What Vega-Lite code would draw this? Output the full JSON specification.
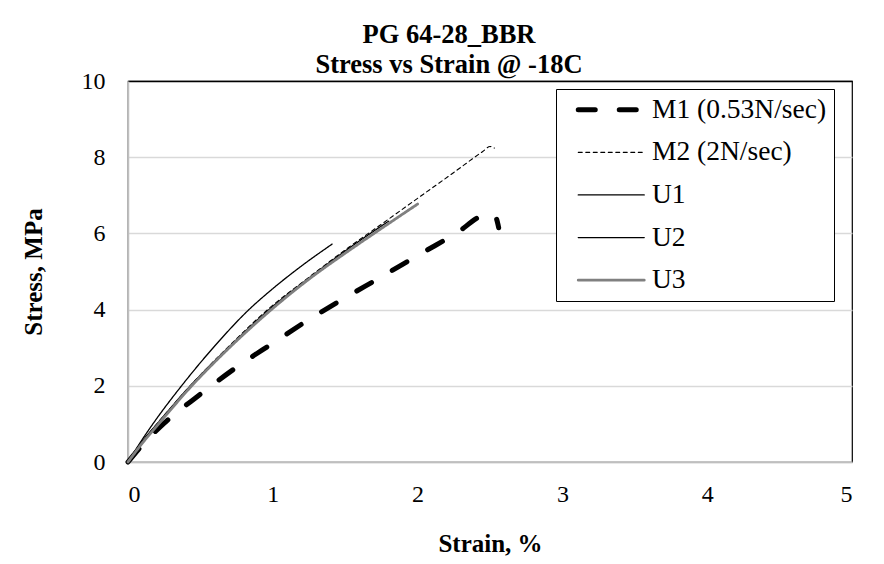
{
  "$schema": "https://vega.github.io/schema/vega-lite/v6.json",
  "width": 724,
  "height": 381,
  "autosize": {"type": "none"},
  "padding": {"left": 128, "top": 81, "right": 32, "bottom": 102},
  "background": "white",
  "title": {
    "text": ["PG 64-28_BBR", "Stress vs Strain @ -18C"],
    "font": "Liberation Serif",
    "fontSize": 26.5,
    "fontWeight": "bold",
    "color": "black",
    "anchor": "middle",
    "baseline": "bottom",
    "lineHeight": 30,
    "offset": -36,
    "dx": -41
  },
  "config": {
    "view": {"stroke": "black", "strokeWidth": 1.2},
    "axis": {
      "labelFont": "Liberation Serif",
      "labelFontSize": 24,
      "labelColor": "black",
      "titleFont": "Liberation Serif",
      "titleFontSize": 25,
      "titleFontWeight": "bold",
      "titleColor": "black",
      "ticks": false,
      "domainColor": "#bfbfbf",
      "domainWidth": 1.5
    },
    "legend": {
      "orient": "none",
      "legendX": 428,
      "legendY": 8,
      "strokeColor": "black",
      "fillColor": "white",
      "padding": 7,
      "labelFont": "Liberation Serif",
      "labelFontSize": 27.5,
      "labelColor": "black",
      "labelLimit": 400,
      "rowPadding": 13.6,
      "symbolType": "M-11,0H11",
      "symbolSize": 36,
      "symbolOffset": 34.5,
      "labelOffset": 27
    }
  },
  "data": {
    "values": [
      {"series": "M1 (0.53N/sec)", "strain": 0, "stress": 0},
      {"series": "M1 (0.53N/sec)", "strain": 0.1, "stress": 0.45},
      {"series": "M1 (0.53N/sec)", "strain": 0.25, "stress": 1.02},
      {"series": "M1 (0.53N/sec)", "strain": 0.5, "stress": 1.78},
      {"series": "M1 (0.53N/sec)", "strain": 0.75, "stress": 2.49},
      {"series": "M1 (0.53N/sec)", "strain": 1.0, "stress": 3.12},
      {"series": "M1 (0.53N/sec)", "strain": 1.25, "stress": 3.74},
      {"series": "M1 (0.53N/sec)", "strain": 1.5, "stress": 4.31},
      {"series": "M1 (0.53N/sec)", "strain": 1.75, "stress": 4.86},
      {"series": "M1 (0.53N/sec)", "strain": 2.0, "stress": 5.42},
      {"series": "M1 (0.53N/sec)", "strain": 2.25, "stress": 5.96},
      {"series": "M1 (0.53N/sec)", "strain": 2.5, "stress": 6.52},
      {"series": "M1 (0.53N/sec)", "strain": 2.54, "stress": 6.42},
      {"series": "M1 (0.53N/sec)", "strain": 2.56, "stress": 6.15},
      {"series": "M2 (2N/sec)", "strain": 0, "stress": 0},
      {"series": "M2 (2N/sec)", "strain": 0.1, "stress": 0.55},
      {"series": "M2 (2N/sec)", "strain": 0.2, "stress": 1.0},
      {"series": "M2 (2N/sec)", "strain": 0.43, "stress": 2.0},
      {"series": "M2 (2N/sec)", "strain": 0.7, "stress": 3.05},
      {"series": "M2 (2N/sec)", "strain": 0.98, "stress": 4.05},
      {"series": "M2 (2N/sec)", "strain": 1.25, "stress": 4.85},
      {"series": "M2 (2N/sec)", "strain": 1.53, "stress": 5.65},
      {"series": "M2 (2N/sec)", "strain": 1.75, "stress": 6.24},
      {"series": "M2 (2N/sec)", "strain": 2.0, "stress": 6.92},
      {"series": "M2 (2N/sec)", "strain": 2.25, "stress": 7.6},
      {"series": "M2 (2N/sec)", "strain": 2.45, "stress": 8.15},
      {"series": "M2 (2N/sec)", "strain": 2.5, "stress": 8.28},
      {"series": "M2 (2N/sec)", "strain": 2.53, "stress": 8.24},
      {"series": "U1", "strain": 0, "stress": 0},
      {"series": "U1", "strain": 0.1, "stress": 0.6},
      {"series": "U1", "strain": 0.2, "stress": 1.15},
      {"series": "U1", "strain": 0.37, "stress": 2.0},
      {"series": "U1", "strain": 0.6, "stress": 3.05},
      {"series": "U1", "strain": 0.83, "stress": 3.98},
      {"series": "U1", "strain": 1.0, "stress": 4.55},
      {"series": "U1", "strain": 1.2, "stress": 5.15},
      {"series": "U1", "strain": 1.41, "stress": 5.72},
      {"series": "U2", "strain": 0, "stress": 0},
      {"series": "U2", "strain": 0.1, "stress": 0.55},
      {"series": "U2", "strain": 0.2, "stress": 1.0},
      {"series": "U2", "strain": 0.43, "stress": 2.0},
      {"series": "U2", "strain": 0.7, "stress": 3.03},
      {"series": "U2", "strain": 0.98, "stress": 4.02},
      {"series": "U2", "strain": 1.25, "stress": 4.83},
      {"series": "U2", "strain": 1.53, "stress": 5.62},
      {"series": "U2", "strain": 1.8, "stress": 6.32},
      {"series": "U3", "strain": 0, "stress": 0},
      {"series": "U3", "strain": 0.1, "stress": 0.5},
      {"series": "U3", "strain": 0.2, "stress": 0.95},
      {"series": "U3", "strain": 0.44, "stress": 2.0},
      {"series": "U3", "strain": 0.7, "stress": 3.0},
      {"series": "U3", "strain": 0.99, "stress": 4.0},
      {"series": "U3", "strain": 1.25, "stress": 4.8},
      {"series": "U3", "strain": 1.53, "stress": 5.56},
      {"series": "U3", "strain": 1.75, "stress": 6.13},
      {"series": "U3", "strain": 2.0, "stress": 6.77}
    ]
  },
  "mark": {"type": "line", "strokeCap": "round", "strokeJoin": "round", "interpolate": "monotone"},
  "encoding": {
    "x": {
      "field": "strain",
      "type": "quantitative",
      "scale": {"domain": [0, 5], "nice": false},
      "axis": {
        "title": "Strain, %",
        "values": [0, 1, 2, 3, 4, 5],
        "grid": false,
        "labelPadding": 20,
        "titlePadding": 25
      }
    },
    "y": {
      "field": "stress",
      "type": "quantitative",
      "scale": {"domain": [0, 10], "nice": false},
      "axis": {
        "title": "Stress, MPa",
        "values": [0, 2, 4, 6, 8, 10],
        "grid": true,
        "gridColor": {"condition": {"test": "datum.value === 10", "value": "black"}, "value": "#d9d9d9"},
        "gridWidth": 1.5,
        "labelPadding": 23,
        "titlePadding": 35
      }
    },
    "color": {
      "field": "series",
      "type": "nominal",
      "scale": {
        "domain": ["M1 (0.53N/sec)", "M2 (2N/sec)", "U1", "U2", "U3"],
        "range": ["black", "black", "black", "black", "#808080"]
      },
      "legend": {
        "title": null,
        "encode": {
          "symbols": {
            "update": {
              "strokeCap": {"value": "round"},
              "strokeWidth": {"signal": "datum.value === 'M1 (0.53N/sec)' ? 5 : datum.value === 'U3' ? 3.2 : datum.value === 'M2 (2N/sec)' ? 1.1 : 1.3"}
            }
          }
        }
      }
    },
    "strokeDash": {
      "field": "series",
      "type": "nominal",
      "scale": {
        "domain": ["M1 (0.53N/sec)", "M2 (2N/sec)", "U1", "U2", "U3"],
        "range": [[17, 24], [4, 3.5], [1, 0], [1, 0], [1, 0]]
      },
      "legend": {"title": null}
    },
    "strokeWidth": {
      "field": "series",
      "type": "nominal",
      "scale": {
        "type": "ordinal",
        "domain": ["M1 (0.53N/sec)", "M2 (2N/sec)", "U1", "U2", "U3"],
        "range": [5, 1.1, 1.3, 1.3, 2.8]
      },
      "legend": null
    }
  }
}
